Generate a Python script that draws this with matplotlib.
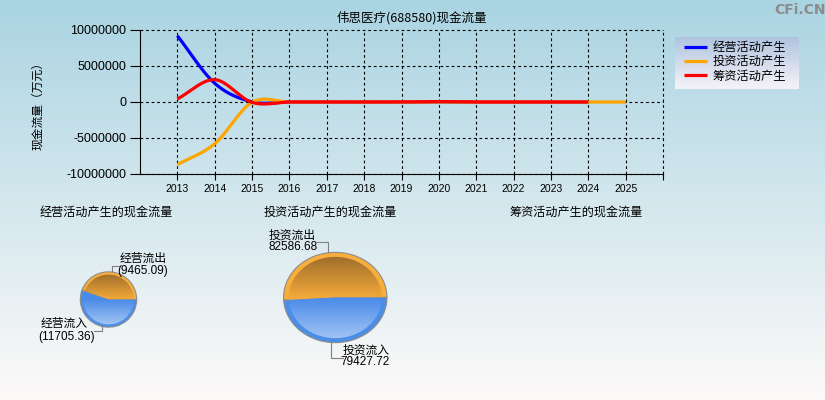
import matplotlib
matplotlib.use("Agg")
import matplotlib.pyplot as plt
import numpy as np
from matplotlib.patches import Wedge
from matplotlib.lines import Line2D
from matplotlib.colors import to_rgb

plt.rcParams['font.family'] = ['Noto Sans CJK SC', 'DejaVu Sans']

# annual net cash flow (万元)
years = np.arange(2013, 2026)
operating = [9200000, 2600000, 20000, 4800, 3900, 5200, 3300, 2700, 2100, 1800, 2500, 2240]
investing = [-8700000, -5800000, -40000, -6000, -3500, -2800, -4100, -5200, -2600, -3900, -2400, -3159, -2000]
financing = [420000, 3100000, -60000, 900, -1200, 800, -600, 60000, -1500, -900, -700, -800]

series_names = ['经营活动产生', '投资活动产生', '筹资活动产生']
series_colors = ['#0000ff', '#ffa500', '#ff0000']

# latest year pies
op_labels = ['经营流出', '经营流入']
op_values = [9465.09, 11705.36]
inv_labels = ['投资流出', '投资流入']
inv_values = [82586.68, 79427.72]

W, H = 825, 400


def px(x, y):
    return x / W, 1 - y / H


def smooth(xs, ys, n=20):
    # cardinal spline through the points, only for drawing
    xs = np.asarray(xs, float)
    ys = np.asarray(ys, float)
    m = np.zeros_like(ys)
    m[1:-1] = (ys[2:] - ys[:-2]) / 2
    m[0] = ys[1] - ys[0]
    m[-1] = ys[-1] - ys[-2]
    ox, oy = [], []
    for i in range(len(xs) - 1):
        t = np.linspace(0, 1, n, endpoint=False)
        h00 = 2 * t**3 - 3 * t**2 + 1
        h10 = t**3 - 2 * t**2 + t
        h01 = -2 * t**3 + 3 * t**2
        h11 = t**3 - t**2
        ox.append(xs[i] + t * (xs[i + 1] - xs[i]))
        oy.append(h00 * ys[i] + h10 * m[i] + h01 * ys[i + 1] + h11 * m[i + 1])
    ox.append([xs[-1]])
    oy.append([ys[-1]])
    return np.concatenate(ox), np.concatenate(oy)


fig = plt.figure(figsize=(8.25, 4), dpi=100)

# background gradient
bg = fig.add_axes([0, 0, 1, 1], zorder=-10)
top = np.array([170, 212, 226]) / 255
bot = np.array([253, 250, 249]) / 255
g = np.linspace(0, 1, 256)[:, None]
bg.imshow(top + (bot - top) * g[:, :, None], aspect='auto', extent=[0, 1, 0, 1])
bg.axis('off')

# main line chart
ax = fig.add_axes([140 / W, 1 - 174 / H, (663 - 140) / W, (174 - 30) / H])
ax.patch.set_alpha(0)
for vals, name, col in zip([operating, investing, financing], series_names, series_colors):
    sx, sy = smooth(years[:len(vals)], vals)
    ax.plot(sx, sy, color=col, lw=2.3, label=name, solid_capstyle='butt')

ax.set_xlim(2012, 2026)
ax.set_ylim(-10000000, 10000000)
ax.set_xticks(np.arange(2013, 2027))
ax.set_xticklabels([str(y) for y in range(2013, 2026)] + [''], fontsize=7.5, family='Liberation Sans')
ax.set_yticks([-10000000, -5000000, 0, 5000000, 10000000])
ax.set_yticklabels(['-10000000', '-5000000', '0', '5000000', '10000000'], fontsize=9, family='Liberation Sans')
ax.tick_params(axis='y', length=7, pad=3)
ax.tick_params(axis='x', length=4, pad=3)
ax.grid(True, color='black', linestyle=(0, (2.5, 2.5)), lw=0.8)
for gl in ax.get_xgridlines() + ax.get_ygridlines():
    gl.set_clip_on(False)
ax.spines['top'].set_visible(False)
ax.spines['right'].set_visible(False)

fig.text(*px(412, 18), '伟思医疗(688580)现金流量', ha='center', va='center', fontsize=9)
fig.text(*px(38, 103), '现金流量（万元）', ha='center', va='center', rotation=90, fontsize=8.5)
fig.text(*px(800, 10), 'CFi.CN', ha='center', va='center', fontsize=10, color='#8c8c8c',
         fontweight='bold', family='DejaVu Sans')

# legend box
lg = fig.add_axes([675 / W, 1 - 89 / H, (799 - 675) / W, (89 - 37) / H])
ltop = np.array([176, 196, 224]) / 255
lbot = np.array([246, 243, 248]) / 255
lg.imshow(ltop + (lbot - ltop) * g[:, :, None], aspect='auto', extent=[0, 1, 0, 1])
lg.axis('off')
handles, labels = ax.get_legend_handles_labels()
fig.legend(handles, labels, loc='upper left', bbox_to_anchor=px(684, 41), frameon=False,
           fontsize=8.8, handlelength=1.9, handletextpad=0.4, labelspacing=0.1,
           borderpad=0, borderaxespad=0)

# pie titles
for cx, t in [(106, '经营活动产生的现金流量'), (330, '投资活动产生的现金流量'), (576, '筹资活动产生的现金流量')]:
    fig.text(*px(cx, 212), t, ha='center', va='center', fontsize=8.7)


def gradient_pie(axp, values):
    wedges, _ = axp.pie(values, colors=['#f8ae3c', '#4a8ee8'], startangle=0, counterclock=True,
                        radius=1, wedgeprops=dict(edgecolor='#8c8c8c', linewidth=0.8))
    axp.set_aspect('auto')
    yy = np.linspace(1, -1, 200)[:, None]
    # orange: dark at top, light near centre
    fo = np.clip(1 - yy, 0, 1)[:, :, None]
    c_dark, c_light = np.array(to_rgb('#96682a')), np.array(to_rgb('#f2a93a'))
    org = np.repeat(c_dark + (c_light - c_dark) * fo, 2, axis=1)
    # blue: saturated near centre, light at bottom
    fb = np.clip(-yy, 0, 1)[:, :, None]
    b0, b1 = np.array(to_rgb('#4a8ae8')), np.array(to_rgb('#aacaf6'))
    blu = np.repeat(b0 + (b1 - b0) * fb, 2, axis=1)
    for w, img in zip(wedges, [org, blu]):
        inner = Wedge((0, 0), 0.9, w.theta1, w.theta2, facecolor='none', edgecolor='none')
        axp.add_patch(inner)
        im = axp.imshow(img, extent=[-1, 1, -1, 1], aspect='auto', zorder=2)
        im.set_clip_path(inner)
    axp.set_xlim(-1.03, 1.03)
    axp.set_ylim(-1.03, 1.03)
    axp.axis('off')


p1 = fig.add_axes([79.5 / W, 1 - 328 / H, 58 / W, 57 / H])
gradient_pie(p1, op_values)
p2 = fig.add_axes([282 / W, 1 - 344 / H, 106.5 / W, 93 / H])
gradient_pie(p2, inv_values)


def leader(points):
    xs = [p[0] / W for p in points]
    ys = [1 - p[1] / H for p in points]
    fig.add_artist(Line2D(xs, ys, color='#808080', lw=0.8))


leader([(112, 271), (112, 266), (119, 266)])
fig.text(*px(143, 258), op_labels[0], ha='center', va='center', fontsize=8.5)
fig.text(*px(143, 271), '(%.2f)' % op_values[0], ha='center', va='center', fontsize=8.5,
         family='Liberation Sans')
leader([(102, 326), (102, 331), (94, 331)])
fig.text(*px(64, 323), op_labels[1], ha='center', va='center', fontsize=8.5)
fig.text(*px(67, 337), '(%.2f)' % op_values[1], ha='center', va='center', fontsize=8.5,
         family='Liberation Sans')

leader([(328, 252), (328, 242), (317, 242)])
fig.text(*px(292, 235), inv_labels[0], ha='center', va='center', fontsize=8.5)
fig.text(*px(293, 247), '%.2f' % inv_values[0], ha='center', va='center', fontsize=8.5,
         family='Liberation Sans')
leader([(331, 343), (331, 358), (343, 358)])
fig.text(*px(366, 350), inv_labels[1], ha='center', va='center', fontsize=8.5)
fig.text(*px(365, 362), '%.2f' % inv_values[1], ha='center', va='center', fontsize=8.5,
         family='Liberation Sans')

fig.savefig('out.png', dpi=100)
